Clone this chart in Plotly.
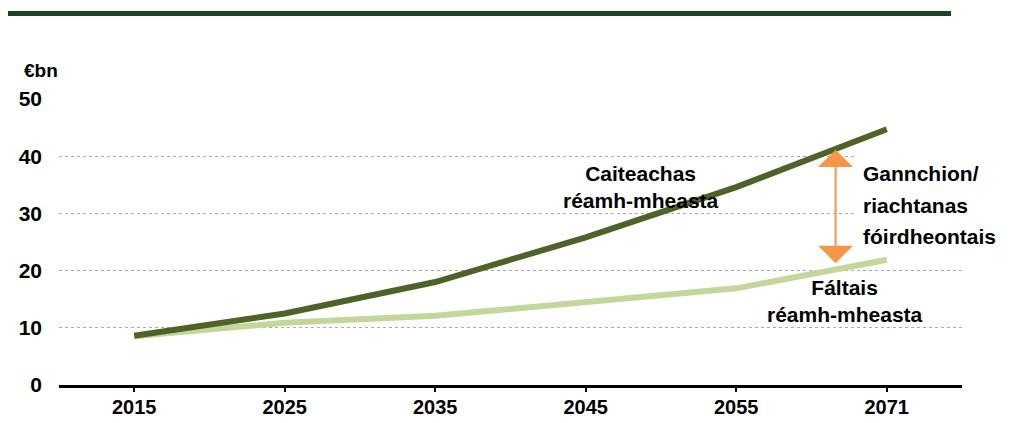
import plotly.graph_objects as go

years = ["2015", "2025", "2035", "2045", "2055", "2071"]
expenditure = [8.6, 12.5, 18.0, 25.8, 34.6, 44.7]
income = [8.5, 10.9, 12.1, 14.5, 16.9, 21.9]
y_ticks = [0, 10, 20, 30, 40, 50]

DARK = "#4F6228"
LIGHT = "#C3D69B"
ORANGE = "#F79646"
FONT = "Liberation Sans, Arial, sans-serif"

fig = go.Figure()
fig.add_trace(go.Scatter(x=years, y=income, mode="lines",
                         line=dict(color=LIGHT, width=6), name="Fáltais", hoverinfo="skip"))
fig.add_trace(go.Scatter(x=years, y=expenditure, mode="lines",
                         line=dict(color=DARK, width=6), name="Caiteachas", hoverinfo="skip"))

fig.update_layout(
    width=1020, height=415,
    margin=dict(l=51, r=66, t=91, b=38, autoexpand=False),
    paper_bgcolor="white", plot_bgcolor="white",
    showlegend=False,
    font=dict(family=FONT, color="black"),
)
fig.update_xaxes(
    type="category", range=[-0.5, 5.5], automargin=False,
    showline=True, linewidth=3, linecolor="black",
    ticks="outside", ticklen=4, tickwidth=2, tickcolor="black",
    ticklabelstandoff=-2,
    tickfont=dict(family=FONT, size=20, weight="bold"),
    showgrid=False, zeroline=False, fixedrange=True,
)
fig.update_yaxes(
    range=[0, 50], tickvals=y_ticks, automargin=False,
    showgrid=True, gridcolor="#ABABAB", gridwidth=1, griddash="dot",
    zeroline=False, showline=False, ticks="",
    ticklabelstandoff=16,
    tickfont=dict(family=FONT, size=21, weight="bold"),
    fixedrange=True,
)

# top decorative bar
fig.add_shape(type="rect", xref="paper", yref="paper",
              x0=-0.0598, x1=0.9878, y0=1.290, y1=1.308,
              fillcolor="#1D4420", line_width=0, layer="above")
# white box hiding gridlines behind the side label
fig.add_shape(type="rect", xref="x", yref="y", x0=4.80, x1=5.5, y0=22.5, y1=42.5,
              fillcolor="white", line_width=0, layer="between")

# unit label
fig.add_annotation(text="€bn", xref="paper", yref="paper", x=-0.041, y=1.101,
                   xanchor="left", yanchor="middle", showarrow=False,
                   font=dict(family=FONT, size=19, weight="bold"))

# series labels
fig.add_annotation(text="Caiteachas<br>réamh-mheasta", x=3.37, y=34.7,
                   showarrow=False, align="center",
                   font=dict(family=FONT, size=21, weight="bold"))
fig.add_annotation(text="Fáltais<br>réamh-mheasta", x=4.724, y=14.6,
                   showarrow=False, align="center",
                   font=dict(family=FONT, size=21, weight="bold"))

gap_lines = ["Gannchion/", "riachtanas", "fóirdheontais"]
gap_y = [37.0, 31.4, 25.9]
for txt, yy in zip(gap_lines, gap_y):
    fig.add_annotation(text=txt, x=4.83, y=yy, xanchor="left", yanchor="middle",
                       showarrow=False,
                       font=dict(family=FONT, size=21, weight="bold"))

# double-headed gap arrow
fig.add_annotation(x=4.66, y=21.3, ax=4.66, ay=41.4, xref="x", yref="y",
                   axref="x", ayref="y", text="", showarrow=True,
                   arrowside="end+start", arrowhead=1, startarrowhead=1,
                   arrowsize=2.9, startarrowsize=2.9, arrowwidth=2,
                   arrowcolor=ORANGE, standoff=0, startstandoff=0)

fig.write_html("out.html")
